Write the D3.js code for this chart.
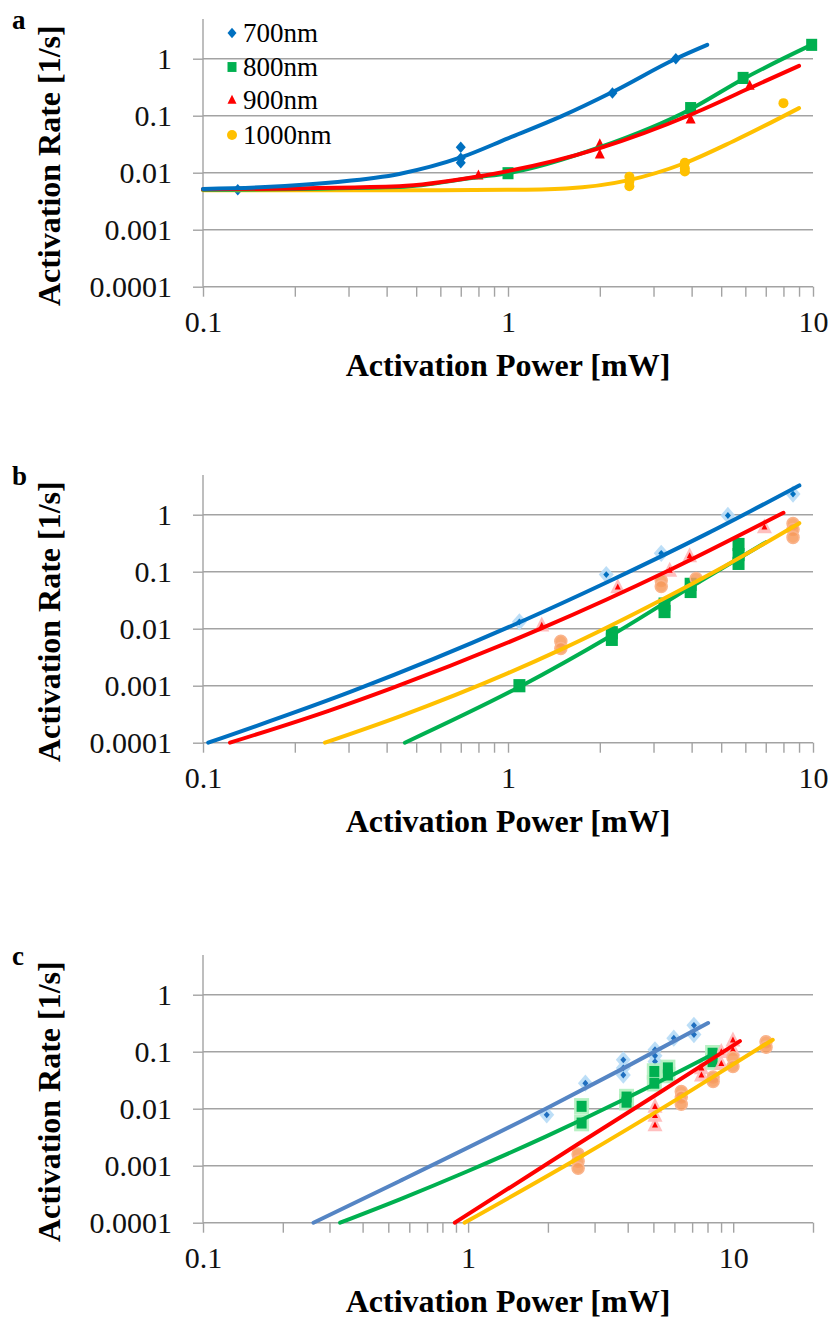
<!DOCTYPE html>
<html>
<head>
<meta charset="utf-8">
<script src="https://cdnjs.cloudflare.com/ajax/libs/d3/7.8.5/d3.min.js"></script>
<style>
  body { margin: 0; background: #fff; }
  text { font-family: "Liberation Serif", "Times New Roman", Times, serif; }
</style>
</head>
<body>
<div id="chart"></div>
<script>
// series names and colours
var seriesNames = ["700nm", "800nm", "900nm", "1000nm"];
var seriesColors = ["#0070c0", "#00b050", "#ff0000", "#ffc000"];
var yTicks = [0.0001, 0.001, 0.01, 0.1, 1];
var yTickLabels = ["0.0001", "0.001", "0.01", "0.1", "1"];

// panel a: measured points [power mW, rate 1/s]
var a700 = [[0.13, 0.005], [0.7, 0.028], [0.7, 0.018], [0.7, 0.015], [2.2, 0.25], [3.55, 1.0]];
var a800 = [[1.0, 0.0098], [3.97, 0.136], [5.9, 0.46], [9.9, 1.75]];
var a900 = [[0.8, 0.009], [2.0, 0.032], [2.0, 0.021], [3.97, 0.087], [6.2, 0.34]];
var a1000 = [[2.5, 0.0085], [2.5, 0.007], [2.5, 0.0058], [3.8, 0.015], [3.8, 0.012], [3.8, 0.0105], [8.0, 0.166]];
// panel a: fitted curves
var a700Fit = [[0.1, 0.0052], [0.16, 0.0056], [0.27, 0.0068], [0.44, 0.0095], [0.7, 0.0185], [1.0, 0.04], [1.5, 0.098], [2.2, 0.26], [3.55, 1.0], [4.5, 1.75]];
var a800Fit = [[0.1, 0.005], [0.44, 0.0056], [0.8, 0.0084], [1.0, 0.0098], [2.0, 0.028], [3.97, 0.13], [5.9, 0.44], [10, 1.8]];
var a900Fit = [[0.1, 0.0051], [0.44, 0.0058], [0.8, 0.0086], [2.0, 0.027], [3.97, 0.104], [6.16, 0.3], [9.0, 0.75]];
var a1000Fit = [[0.1, 0.0049], [0.5, 0.0049], [1.0, 0.005], [1.55, 0.0053], [2.49, 0.0074], [3.77, 0.0145], [5.5, 0.036], [9.0, 0.136]];

// panel b
var b700 = [[1.09, 0.0132], [2.1, 0.089], [3.18, 0.21], [5.26, 0.97], [8.6, 2.3]];
var b800 = [[1.09, 0.001], [2.19, 0.0085], [2.19, 0.0065], [3.26, 0.027], [3.26, 0.02], [3.97, 0.06], [3.97, 0.045], [5.7, 0.3], [5.7, 0.2], [5.7, 0.14]];
var b900 = [[1.29, 0.0115], [2.29, 0.054], [3.39, 0.106], [3.94, 0.19], [6.93, 0.61]];
var b1000 = [[1.49, 0.006], [1.49, 0.0045], [3.18, 0.07], [3.18, 0.055], [4.14, 0.076], [8.6, 0.7], [8.6, 0.55], [8.6, 0.4]];
var b700Fit = [[0.104, 0.0001], [0.31, 0.00081], [1.093, 0.013], [2.12, 0.066], [4.51, 0.47], [9.02, 3.26]];
var b800Fit = [[0.459, 0.0001], [1.093, 0.00096], [2.19, 0.0077], [3.97, 0.054], [7.02, 0.33]];
var b900Fit = [[0.1226, 0.0001], [0.261, 0.00037], [0.41, 0.00088], [1.286, 0.0101], [3.39, 0.107], [8.0, 1.08]];
var b1000Fit = [[0.251, 0.0001], [0.442, 0.00029], [1.0, 0.00166], [1.488, 0.0043], [3.18, 0.032], [5.13, 0.125], [9.02, 0.71]];

// panel c
var c700 = [[1.98, 0.0078], [2.77, 0.028], [3.85, 0.072], [3.85, 0.052], [3.85, 0.039], [5.07, 0.108], [5.07, 0.085], [5.07, 0.067], [5.97, 0.173], [7.11, 0.29], [7.11, 0.2]];
var c800 = [[2.68, 0.011], [2.68, 0.0056], [3.96, 0.016], [3.96, 0.013], [5.04, 0.045], [5.04, 0.028], [5.67, 0.052], [5.67, 0.039], [8.36, 0.094], [8.36, 0.067]];
var c900 = [[5.07, 0.011], [5.07, 0.0076], [5.07, 0.0052], [7.59, 0.052], [7.59, 0.039], [9.02, 0.1], [9.02, 0.062], [9.98, 0.16], [9.98, 0.11]];
var c1000 = [[2.6, 0.0016], [2.6, 0.0012], [2.6, 0.0009], [6.37, 0.02], [6.37, 0.016], [6.37, 0.012], [8.4, 0.036], [8.4, 0.03], [9.98, 0.078], [9.98, 0.055], [13.3, 0.15], [13.3, 0.12]];
var c700Fit = [[0.261, 0.0001], [0.553, 0.00054], [1.98, 0.0102], [3.85, 0.051], [8.04, 0.318]];
var c800Fit = [[0.329, 0.0001], [0.553, 0.000257], [0.99, 0.00079], [1.98, 0.0033], [3.97, 0.0154], [8.53, 0.094]];
var c900Fit = [[0.891, 0.0001], [2.6, 0.0024], [5.07, 0.017], [10.6, 0.153]];
var c1000Fit = [[0.97, 0.0001], [2.6, 0.00135], [6.37, 0.0163], [14.1, 0.162]];

var panels = [
    { letter: "a", top: 0, xMax: 10, style: "solid", blue: "#0070c0",
      points: [a700, a800, a900, a1000], fits: [a700Fit, a800Fit, a900Fit, a1000Fit] },
    { letter: "b", top: 456, xMax: 10, style: "faded", blue: "#0070c0",
      points: [b700, b800, b900, b1000], fits: [b700Fit, b800Fit, b900Fit, b1000Fit] },
    { letter: "c", top: 936, xMax: 20, style: "faded", blue: "#5585c4",
      points: [c700, c800, c900, c1000], fits: [c700Fit, c800Fit, c900Fit, c1000Fit] }
];

var svg = d3.select("#chart").append("svg")
    .attr("width", 833)
    .attr("height", 1321);

var gridColor = "#a3a3a3";
var serif = "'Liberation Serif', 'Times New Roman', Times, serif";

function markerPath(shape, s) {
    var h = s / 2;
    if (shape == 0) return "M0," + (-h * 1.15) + "L" + h + ",0L0," + (h * 1.15) + "L" + (-h) + ",0Z";
    if (shape == 1) return "M" + (-h) + "," + (-h * 1.1) + "H" + h + "V" + (h * 1.1) + "H" + (-h) + "Z";
    if (shape == 2) return "M0," + (-h * 1.15) + "L" + h + "," + (h * 0.85) + "L" + (-h) + "," + (h * 0.85) + "Z";
    return d3.symbol().type(d3.symbolCircle).size(Math.PI * h * h)();
}

function drawPanel(p) {
    var bottom = 286.7 + p.top;
    var x = d3.scaleLog().domain([0.1, p.xMax]).range([203, 813]);
    var y = d3.scaleLog().domain([0.0001, 5]).range([bottom, bottom - 57 * Math.log10(50000)]);
    var g = svg.append("g");

    // horizontal gridlines
    g.selectAll(".grid").data(yTicks.slice(1)).enter().append("line")
        .attr("x1", 203).attr("x2", 813)
        .attr("y1", function (d) { return y(d); })
        .attr("y2", function (d) { return y(d); })
        .attr("stroke", gridColor).attr("stroke-width", 1.4);

    // y axis
    var yAxis = g.append("g")
        .attr("transform", "translate(203,0)")
        .call(d3.axisLeft(y).tickValues(yTicks).tickSize(10).tickPadding(21)
            .tickFormat(function (d, i) { return yTickLabels[i]; }));

    // x axis with minor ticks
    var xTicks = [];
    [0.1, 1].forEach(function (dec) {
        for (var k = 1; k < 10; k++) xTicks.push(+(dec * k).toFixed(2));
    });
    xTicks.push(10);
    if (p.xMax == 20) xTicks.push(20);
    var xAxis = g.append("g")
        .attr("transform", "translate(0," + bottom + ")")
        .call(d3.axisBottom(x).tickValues(xTicks).tickSize(10).tickPadding(14)
            .tickFormat(function (d) { return [0.1, 1, 10].indexOf(d) >= 0 ? String(d) : ""; }));

    [yAxis, xAxis].forEach(function (ax) {
        ax.attr("font-family", null);
        ax.select(".domain").attr("stroke", gridColor).attr("stroke-width", 1.4);
        ax.selectAll(".tick line").attr("stroke", gridColor).attr("stroke-width", 1.4);
        ax.selectAll("text").attr("font-size", 30).attr("fill", "#111");
    });
    yAxis.select(".domain").attr("d", "M0," + (bottom - 267.7) + "V" + bottom);
    yAxis.selectAll(".tick text").attr("dy", "0.33em");
    xAxis.select(".domain").attr("d", "M203,0H813");
    xAxis.selectAll(".tick text").attr("dy", "0.71em");

    // titles
    g.append("text")
        .attr("x", 508).attr("y", bottom + 89)
        .attr("text-anchor", "middle")
        .attr("font-size", 32).attr("font-weight", "bold")
        .text("Activation Power [mW]");
    g.append("text")
        .attr("transform", "translate(60," + (bottom - 121) + ") rotate(-90)")
        .attr("text-anchor", "middle")
        .attr("font-size", 32).attr("font-weight", "bold")
        .text("Activation Rate [1/s]");
    g.append("text")
        .attr("x", 12).attr("y", bottom - 258)
        .attr("font-size", 27).attr("font-weight", "bold")
        .text(p.letter);

    // markers
    var lightColors = ["#b5daf6", "#b0f0be", "#ffb8b8", "#fab48c"];
    var darkColors = [p.blue == "#0070c0" ? "#0070c0" : "#1f6fc0", "#00b050", "#ff0000", "#f79a5c"];
    p.points.forEach(function (pts, i) {
        var sel = g.append("g").selectAll("path").data(pts).enter();
        var at = function (d) { return "translate(" + x(d[0]) + "," + y(d[1]) + ")"; };
        if (p.style == "solid") {
            var size = [10, 11, 10, 10][i];
            sel.append("path").attr("d", markerPath(i, size)).attr("transform", at)
                .attr("fill", seriesColors[i]);
        } else if (i == 3) {
            sel.append("path").attr("d", markerPath(3, 12)).attr("transform", at)
                .attr("fill", darkColors[3]).attr("fill-opacity", 0.85)
                .attr("stroke", lightColors[3]).attr("stroke-width", 1.5);
        } else if (i == 1 && p.letter == "b") {
            sel.append("path").attr("d", markerPath(1, 12)).attr("transform", at)
                .attr("fill", darkColors[1]);
        } else {
            var big = [15, 15, 15][i];
            var small = [6, 10, 6][i];
            sel.append("path").attr("d", markerPath(i, big)).attr("transform", at)
                .attr("fill", lightColors[i]).attr("fill-opacity", 0.9);
            sel.append("path").attr("d", markerPath(i, small)).attr("transform", at)
                .attr("fill", darkColors[i]);
        }
    });

    // fitted lines (drawn over the markers)
    var line = d3.line()
        .x(function (d) { return x(d[0]); })
        .y(function (d) { return y(d[1]); })
        .curve(d3.curveMonotoneX);
    var order = p.letter == "a" ? [3, 1, 2, 0] : [1, 3, 2, 0];
    order.forEach(function (i) {
        g.append("path")
            .datum(p.fits[i])
            .attr("d", line)
            .attr("fill", "none")
            .attr("stroke", i == 0 ? p.blue : seriesColors[i])
            .attr("stroke-width", 4)
            .attr("stroke-linecap", "round");
    });
}

panels.forEach(drawPanel);

// legend (panel a only)
var legend = svg.append("g");
seriesNames.forEach(function (name, i) {
    var cy = [33, 67, 100, 135][i];
    legend.append("path")
        .attr("d", markerPath(i, i == 3 ? 10 : 9))
        .attr("transform", "translate(232," + cy + ")")
        .attr("fill", seriesColors[i]);
    legend.append("text")
        .attr("x", 243).attr("y", cy + 9)
        .attr("font-size", 27)
        .text(name);
});

svg.selectAll("text").style("font-family", serif);
</script>
</body>
</html>
